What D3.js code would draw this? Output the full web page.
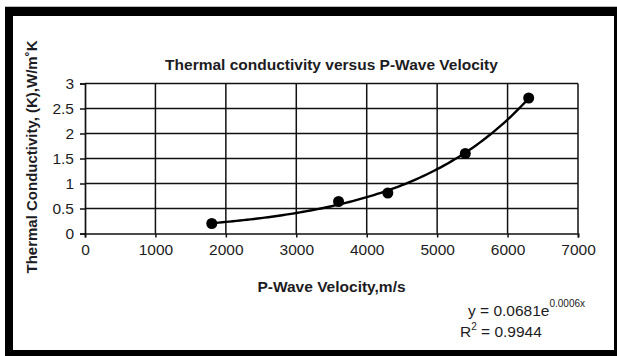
<!DOCTYPE html>
<html>
<head>
<meta charset="utf-8">
<script src="https://cdn.jsdelivr.net/npm/d3@7"></script>
<style>
  body { margin: 0; background: #fff; }
  text { font-family: "Liberation Sans", Arial, sans-serif; fill: #1c1c22; }
</style>
</head>
<body>
<script>
// measured points
const velocity = [1800, 3600, 4300, 5400, 6300];
const conductivity = [0.2, 0.64, 0.81, 1.6, 2.71];
const xTicks = [0, 1000, 2000, 3000, 4000, 5000, 6000, 7000];
const yTicks = [0, 0.5, 1, 1.5, 2, 2.5, 3];

const W = 617, H = 356;
const plot = { left: 85, right: 578, top: 83.5, bottom: 233.5 };

const svg = d3.select('body').append('svg')
  .attr('width', W)
  .attr('height', H);

// frame
svg.append('rect').attr('x', 0).attr('y', 0).attr('width', W).attr('height', H).attr('fill', '#fff');
svg.append('rect').attr('x', 5).attr('y', 6).attr('width', 612).attr('height', 1).attr('fill', '#bbb');
svg.append('rect').attr('x', 5).attr('y', 7).attr('width', 612).attr('height', 9).attr('fill', '#000');
svg.append('rect').attr('x', 5).attr('y', 7).attr('width', 8).attr('height', 349).attr('fill', '#000');
svg.append('rect').attr('x', 614).attr('y', 7).attr('width', 3).attr('height', 349).attr('fill', '#000');
svg.append('rect').attr('x', 5).attr('y', 350).attr('width', 612).attr('height', 6).attr('fill', '#000');

const x = d3.scaleLinear().domain([0, 7000]).range([plot.left, plot.right]);
const y = d3.scaleLinear().domain([0, 3]).range([plot.bottom, plot.top]);

// grid
svg.append('g').selectAll('line').data(xTicks.slice(1)).enter().append('line')
  .attr('x1', d => x(d)).attr('x2', d => x(d))
  .attr('y1', plot.top).attr('y2', plot.bottom)
  .attr('stroke', '#111').attr('stroke-width', 1.5);
svg.append('g').selectAll('line').data(yTicks.slice(1)).enter().append('line')
  .attr('x1', plot.left).attr('x2', plot.right)
  .attr('y1', d => y(d)).attr('y2', d => y(d))
  .attr('stroke', '#111').attr('stroke-width', 1.5);

const xAxis = svg.append('g')
  .attr('transform', `translate(0,${plot.bottom})`)
  .call(d3.axisBottom(x).tickValues(xTicks).tickSize(4).tickPadding(6).tickFormat(d3.format('d')));
const yAxis = svg.append('g')
  .attr('transform', `translate(${plot.left},0)`)
  .call(d3.axisLeft(y).tickValues(yTicks).tickSize(5).tickPadding(6).tickFormat(d => d));
[xAxis, yAxis].forEach(a => {
  a.select('.domain').attr('stroke', '#111').attr('stroke-width', 1.7);
  a.selectAll('.tick line').attr('stroke', '#111').attr('stroke-width', 1.5);
  a.selectAll('.tick text').style('font-size', '15.5px').style('font-family', '"Liberation Sans", Arial, sans-serif').attr('fill', '#1c1c22');
});

// exponential trendline, fitted to the points (least squares on ln y)
const lx = velocity, ly = conductivity.map(Math.log);
const mx = d3.mean(lx), my = d3.mean(ly);
const b = d3.sum(lx, (v, i) => (v - mx) * (ly[i] - my)) / d3.sum(lx, v => (v - mx) * (v - mx));
const a = Math.exp(my - b * mx);
const trend = d3.range(d3.min(velocity), d3.max(velocity) + 1, 50).map(v => [v, a * Math.exp(b * v)]);

svg.append('path')
  .datum(trend)
  .attr('fill', 'none')
  .attr('stroke', '#000')
  .attr('stroke-width', 2.4)
  .attr('d', d3.line().x(d => x(d[0])).y(d => y(d[1])));

svg.selectAll('.pt').data(velocity).enter().append('circle')
  .attr('class', 'pt')
  .attr('cx', d => x(d))
  .attr('cy', (d, i) => y(conductivity[i]))
  .attr('r', 5.5)
  .attr('fill', '#000');

// titles
svg.append('text')
  .attr('x', (plot.left + plot.right) / 2).attr('y', 70)
  .attr('text-anchor', 'middle')
  .style('font-size', '15.5px').style('font-weight', 'bold')
  .text('Thermal conductivity versus P-Wave Velocity');

svg.append('text')
  .attr('x', (plot.left + plot.right) / 2).attr('y', 292)
  .attr('text-anchor', 'middle')
  .style('font-size', '15.5px').style('font-weight', 'bold')
  .text('P-Wave Velocity,m/s');

svg.append('text')
  .attr('transform', 'translate(37,157) rotate(-90)')
  .attr('text-anchor', 'middle')
  .style('font-size', '15px').style('font-weight', 'bold')
  .text('Thermal Conductivity, (K),W/m˚K');

// equation
const eq = svg.append('text')
  .attr('x', 468).attr('y', 316)
  .style('font-size', '15.5px');
eq.append('tspan').text('y = 0.0681e');
eq.append('tspan').attr('dy', -9).style('font-size', '10px').text('0.0006x');

const r2 = svg.append('text')
  .attr('x', 460).attr('y', 337)
  .style('font-size', '15.5px');
r2.append('tspan').text('R');
r2.append('tspan').attr('dy', -7).style('font-size', '10px').text('2');
r2.append('tspan').attr('dy', 7).text(' = 0.9944');
</script>
</body>
</html>
